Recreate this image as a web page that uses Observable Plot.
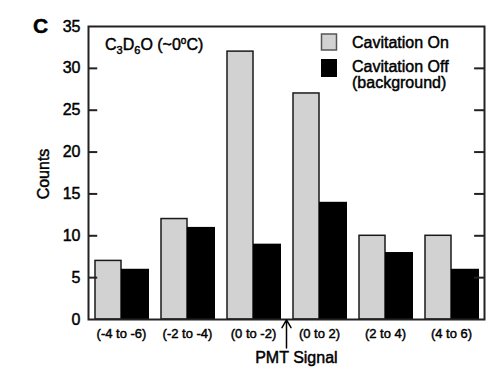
<!DOCTYPE html>
<html><head><meta charset="utf-8">
<script src="https://cdn.jsdelivr.net/npm/d3@7"></script>
<script src="https://cdn.jsdelivr.net/npm/@observablehq/plot@0.6"></script>
<style>body{margin:0;background:#fff} svg text{stroke:#000;stroke-width:0.45px}</style>
</head><body><div id="chart"></div>
<script>
const categories = ["(-4 to -6)", "(-2 to -4)", "(0 to -2)", "(0 to 2)", "(2 to 4)", "(4 to 6)"];
const cavitationOn = [7, 12, 32, 27, 10, 10];
const cavitationOff = [6, 11, 9, 14, 8, 6];
const seriesNames = ["Cavitation On", "Cavitation Off"];
const yTicks = [0, 5, 10, 15, 20, 25, 30, 35];

const FONT = "'Liberation Sans', Arial, Helvetica, sans-serif";
const onRows = categories.map((c, i) => ({i, cat: c, value: cavitationOn[i]}));
const offRows = categories.map((c, i) => ({i, cat: c, value: cavitationOff[i]}));
const xTicks = categories.map((_, i) => i + 0.5);
const innerTicks = yTicks.slice(1, -1);

const plot = Plot.plot({
  width: 499, height: 377,
  marginLeft: 88, marginRight: 15, marginTop: 26, marginBottom: 58,
  style: {fontFamily: FONT, background: "#fff", color: "#000"},
  x: {domain: [0, 6]},
  y: {domain: [0, 35]},
  marks: [
    Plot.rectY(onRows, {x1: d => d.i, x2: d => d.i + 1, y: "value", insetLeft: 7, insetRight: 33, fill: "#d2d2d2", stroke: "#1a1a1a", strokeWidth: 1.5}),
    Plot.rectY(offRows, {x1: d => d.i, x2: d => d.i + 1, y: "value", insetLeft: 33, insetRight: 5, fill: "#000"}),
    Plot.ruleY(innerTicks, {x1: 0, x2: 0.14, stroke: "#222", strokeWidth: 2}),
    Plot.ruleY(innerTicks, {x1: 5.85, x2: 6, stroke: "#222", strokeWidth: 2}),
    Plot.frame({stroke: "#222", strokeWidth: 2}),
    Plot.axisY(yTicks, {tickSize: 0, tickPadding: 8, fontSize: 16, label: null}),
    Plot.axisX(xTicks, {tickSize: 0, tickPadding: 9, fontSize: 13, label: null, tickFormat: d => categories[Math.floor(d)]}),
    Plot.arrow([0], {x1: 3, x2: 3, y1: -3.4, y2: -0.05, headLength: 9, stroke: "#000", strokeWidth: 1.5}),
    Plot.text(["PMT Signal"], {x: 3.15, y: -4.55, text: d => d, fontSize: 16, fill: "#000"})
  ]
});
document.getElementById("chart").appendChild(plot);

const svg = d3.select(plot);
svg.append("text").attr("x", 33).attr("y", 33).attr("text-anchor", "start").attr("font-family", FONT).attr("font-weight", "bold").attr("font-size", 21).text("C");
svg.append("text").attr("transform", "translate(49,174) rotate(-90)").attr("text-anchor", "middle").attr("font-family", FONT).attr("font-size", 16).text("Counts");

const t = svg.append("text").attr("x", 105).attr("y", 50).attr("text-anchor", "start").attr("font-family", FONT).attr("font-size", 16);
t.append("tspan").text("C");
t.append("tspan").attr("font-size", 11).attr("dy", 4).text("3");
t.append("tspan").attr("dy", -4).text("D");
t.append("tspan").attr("font-size", 11).attr("dy", 4).text("6");
t.append("tspan").attr("dy", -4).text("O (~0");
t.append("tspan").attr("font-size", 10).attr("dy", -6).text("o");
t.append("tspan").attr("dy", 6).text("C)");

const lg = svg.append("g").attr("font-family", FONT).attr("font-size", 16).attr("text-anchor", "start");
lg.append("rect").attr("x", 321.5).attr("y", 34).attr("width", 15).attr("height", 16).attr("fill", "#d2d2d2").attr("stroke", "#555").attr("stroke-width", 1.5);
lg.append("rect").attr("x", 321).attr("y", 59).attr("width", 16).attr("height", 18).attr("fill", "#000");
lg.append("text").attr("x", 352).attr("y", 48).text(seriesNames[0]);
lg.append("text").attr("x", 352).attr("y", 72).text(seriesNames[1]);
lg.append("text").attr("x", 352).attr("y", 88).text("(background)");
</script>
</body></html>
